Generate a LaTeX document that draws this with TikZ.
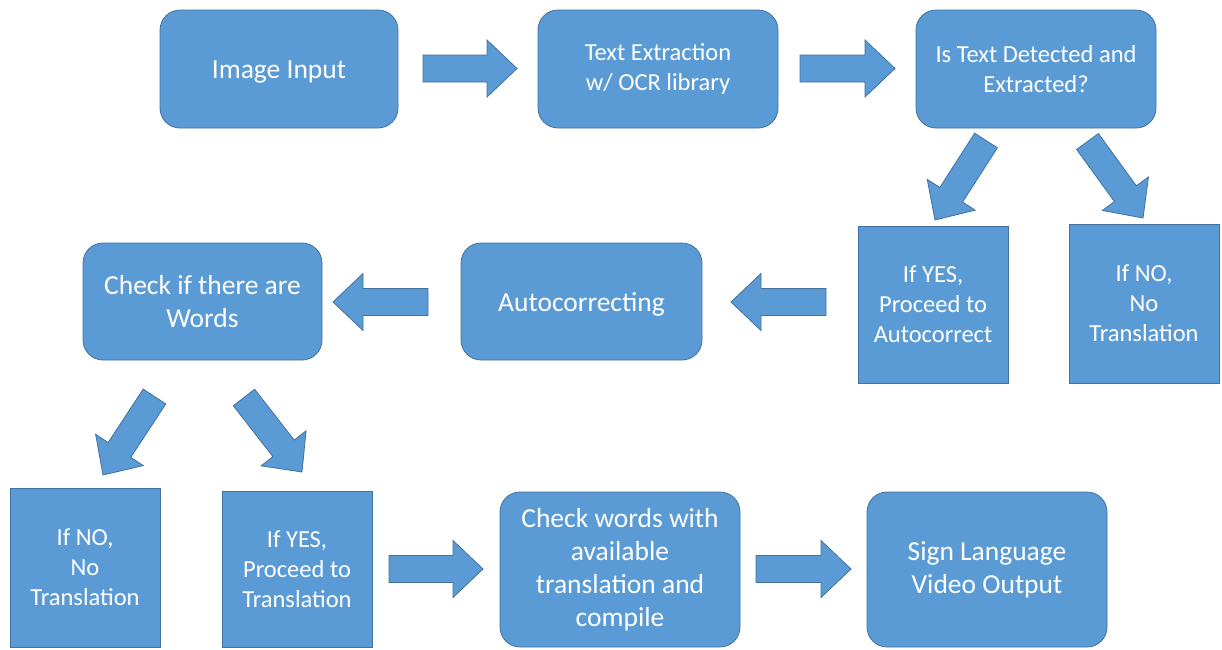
\documentclass[tikz,border=0pt]{standalone}
\usepackage{fontspec}
\setmainfont{Carlito}
\usetikzlibrary{calc}
\definecolor{boxfill}{HTML}{5B9BD5}
\definecolor{boxline}{HTML}{41719C}
\tikzset{
  basebox/.style={fill=boxfill, draw=boxline, line width=0.8pt, text=white, align=center, inner sep=0pt},
  roundbox/.style={basebox, rounded corners=20pt, font=\fontsize{27.5}{33}\selectfont},
  roundsmall/.style={basebox, rounded corners=20pt, font=\fontsize{24.5}{30}\selectfont},
  sqbox/.style={basebox, font=\fontsize{24.5}{30}\selectfont},
  oneline/.style={text height=21pt, text depth=1.8pt},
  barrow/.style={fill=boxfill, draw=boxline, line width=0.8pt, line join=miter}
}
\newcommand\blockarr[2]{%
  \coordinate (hb) at ($(#2)!30pt!(#1)$);
  \filldraw[barrow] ($(#1)!13.5pt!90:(#2)$) -- ($(hb)!13.5pt!-90:(#1)$) -- ($(hb)!28.5pt!-90:(#1)$) -- (#2)
     -- ($(hb)!28.5pt!90:(#1)$) -- ($(hb)!13.5pt!90:(#1)$) -- ($(#1)!13.5pt!-90:(#2)$) -- cycle;}
\begin{document}
\begin{tikzpicture}[x=1pt,y=-1pt]
\useasboundingbox (0,0) rectangle (1222,649);
% boxes
\node[roundbox, oneline, minimum width=238pt, minimum height=118pt] (img) at (279,69) {Image Input};
\node[roundsmall, minimum width=240pt, minimum height=118pt] (ocr) at (658,69) {Text Extraction\\w/ OCR library};
\node[roundsmall, minimum width=240pt, minimum height=118pt] (det) at (1036,69) {Is Text Detected and\\Extracted?};
\node[sqbox, minimum width=150pt, minimum height=157pt] (yes1) at (933,304.5) {If YES,\\Proceed to\\Autocorrect};
\node[sqbox, minimum width=150pt, minimum height=159pt] (no1) at (1144,303.5) {If NO,\\No\\Translation};
\node[roundbox, oneline, minimum width=241pt, minimum height=117pt] (auto) at (581.5,301.5) {Autocorrecting};
\node[roundbox, minimum width=239pt, minimum height=117pt] (chk) at (202.5,301.5) {Check if there are\\Words};
\node[sqbox, minimum width=150pt, minimum height=159pt] (no2) at (85,567.5) {If NO,\\No\\Translation};
\node[sqbox, minimum width=150pt, minimum height=156pt] (yes2) at (297,569) {If YES,\\Proceed to\\Translation};
\node[roundbox, minimum width=240pt, minimum height=155pt] (words) at (620,569.5) {Check words with\\available\\translation and\\compile};
\node[roundbox, minimum width=240pt, minimum height=155pt] (sign) at (987,569.5) {Sign Language\\Video Output};
% arrow end points
\coordinate (a1s) at (423,68.5);  \coordinate (a1e) at (517,68.5);
\coordinate (a2s) at (800,68.5);  \coordinate (a2e) at (895,68.5);
\coordinate (d1s) at (986,140.5); \coordinate (d1e) at (935,220);
\coordinate (d2s) at (1087.5,141.5); \coordinate (d2e) at (1143,218);
\coordinate (a3s) at (826,302);   \coordinate (a3e) at (731,302);
\coordinate (a4s) at (428,302);   \coordinate (a4e) at (333,302);
\coordinate (d3s) at (154.5,396.5); \coordinate (d3e) at (103,475);
\coordinate (d4s) at (244,397.5); \coordinate (d4e) at (302,472);
\coordinate (a5s) at (389,569);   \coordinate (a5e) at (483,569);
\coordinate (a6s) at (756,569);   \coordinate (a6e) at (851,569);
\blockarr{a1s}{a1e}
\blockarr{a2s}{a2e}
\blockarr{d1s}{d1e}
\blockarr{d2s}{d2e}
\blockarr{a3s}{a3e}
\blockarr{a4s}{a4e}
\blockarr{d3s}{d3e}
\blockarr{d4s}{d4e}
\blockarr{a5s}{a5e}
\blockarr{a6s}{a6e}
\end{tikzpicture}
\end{document}
